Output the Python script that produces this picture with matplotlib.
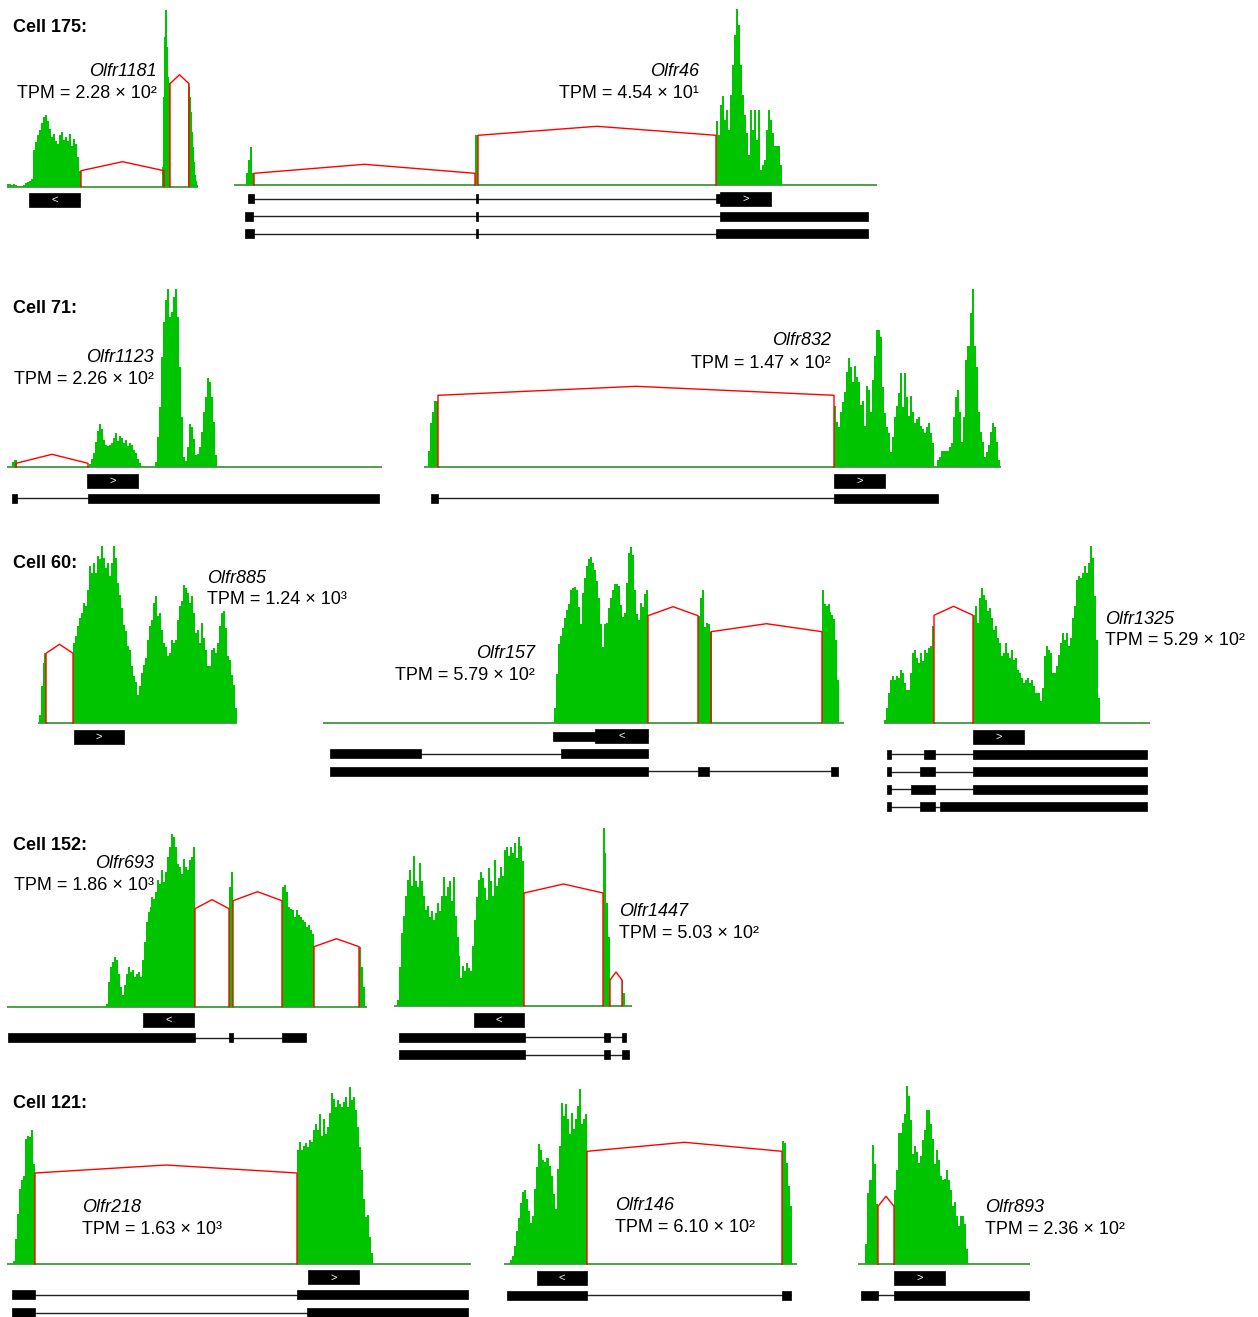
import numpy as np
import matplotlib
matplotlib.use("Agg")
import matplotlib.pyplot as plt

plt.rcParams['font.family'] = ['Liberation Sans', 'DejaVu Sans']

W, H = 1258, 1317
GREEN = '#00c400'
AXIS_GREEN = '#3c9a3c'
RED = '#ff0000'

# --- data: positions are along each locus, depth is read-coverage height ---
# coverage: (start, end, depths), junctions: (start, end, height, apex)
# rows: transcripts, each a list of (start, end, kind); 'cds' gets the strand arrow

olfr1181_cov = [
    (0, 26, [3, 3, 2, 3, 2, 1, 1, 1, 2, 4, 5, 6, 8]),
    (26, 74, [37, 45, 52, 57, 64, 70, 72, 66, 58, 50, 53, 46, 43, 52, 55, 47, 50, 46, 53, 41, 48, 43, 30, 16]),
    (155, 163, [20, 90, 150, 177, 177, 140, 110, 104]),
    (181, 191, [103, 100, 90, 75, 55, 40, 25, 12, 6, 2]),
]
olfr1181_junc = [(74, 157, 16, 25), (163, 182, 103, 112)]
olfr1181_rows = [[(22, 73, 'cds')]]

olfr46_cov = [
    (12, 20, [12, 25, 38, 12]),
    (241, 244, [50, 50]),
    (482, 548, [64, 50, 80, 89, 65, 75, 55, 90, 120, 150, 176, 160, 120, 90, 70, 52, 30, 75, 55, 75,
                45, 75, 15, 20, 25, 55, 75, 65, 52, 39, 39, 39, 20]),
]
olfr46_junc = [(20, 241, 12, 21), (244, 482, 50, 59)]
olfr46_rows = [
    [(14, 20, 'exon'), (242, 244, 'exon'), (482, 486, 'exon'), (486, 537, 'cds')],
    [(11, 19, 'exon'), (242, 244, 'exon'), (486, 634, 'exon')],
    [(11, 20, 'exon'), (242, 244, 'exon'), (482, 634, 'exon')],
]

olfr1123_cov = [
    (5, 10, [5, 7, 7]),
    (82, 136, [3, 8, 14, 25, 36, 43, 38, 27, 22, 21, 22, 24, 29, 34, 26, 31, 29, 24, 27, 21, 24, 22, 17, 14, 8, 4, 1]),
    (148, 210, [5, 30, 60, 110, 145, 167, 178, 150, 155, 170, 178, 150, 100, 50, 10, 6, 20, 43, 40, 28,
                12, 13, 20, 35, 55, 70, 89, 85, 70, 45, 12]),
]
olfr1123_junc = [(9, 81, 4, 13)]
olfr1123_rows = [[(80, 131, 'cds')], [(5, 10, 'exon'), (81, 372, 'exon')]]

olfr832_cov = [
    (4, 14, [16, 44, 55, 66, 66]),
    (410, 510, [61, 45, 40, 55, 65, 75, 95, 109, 100, 85, 101, 90, 85, 62, 66, 41, 81, 77, 55, 87,
                111, 137, 137, 130, 80, 54, 40, 34, 15, 30, 50, 61, 74, 94, 60, 94, 70, 51, 71, 55,
                44, 48, 50, 41, 38, 34, 40, 44, 34, 24]),
    (513, 576, [7, 10, 16, 16, 16, 16, 20, 24, 50, 70, 77, 55, 25, 50, 107, 121, 154, 178, 121, 100,
                55, 35, 25, 10, 15, 22, 35, 44, 40, 25, 7]),
]
olfr832_junc = [(14, 410, 72, 81)]
olfr832_rows = [[(410, 461, 'cds')], [(7, 14, 'exon'), (410, 514, 'exon')]]

olfr885_cov = [
    (1, 8, [8, 37, 60, 70]),
    (35, 199, [80, 87, 97, 105, 110, 120, 117, 133, 157, 150, 160, 150, 167, 164, 177, 165, 155, 160, 147, 160,
               177, 165, 140, 128, 115, 98, 92, 77, 73, 57, 47, 41, 28, 37, 50, 58, 65, 83, 97, 103,
               120, 127, 107, 110, 93, 80, 76, 67, 70, 83, 80, 83, 103, 117, 122, 138, 135, 130, 120, 127,
               110, 90, 93, 80, 100, 85, 73, 57, 57, 73, 75, 70, 80, 97, 110, 112, 95, 67, 63, 48,
               38, 15]),
]
olfr885_junc = [(8, 35, 70, 79)]
olfr885_rows = [[(36, 86, 'cds')]]

olfr157_cov = [
    (231, 325, [15, 49, 79, 87, 95, 105, 113, 119, 133, 135, 136, 133, 116, 99, 130, 145, 157, 164, 166, 160,
                153, 142, 125, 99, 76, 99, 100, 115, 125, 133, 139, 139, 137, 118, 106, 110, 140, 170, 176, 168,
                133, 109, 103, 120, 116, 129, 133]),
    (375, 389, [107, 125, 133, 96, 100, 99, 91]),
    (499, 516, [133, 119, 117, 119, 111, 108, 104, 83, 43]),
]
olfr157_junc = [(325, 375, 107, 116), (388, 499, 91, 99)]
olfr157_rows = [
    [(230, 272, 'exon'), (272, 325, 'cds')],
    [(7, 98, 'exon'), (238, 325, 'exon')],
    [(7, 325, 'exon'), (375, 386, 'exon'), (508, 515, 'exon')],
]

olfr1325_cov = [
    (0, 50, [3, 15, 30, 43, 47, 43, 47, 45, 53, 50, 40, 33, 33, 50, 70, 73, 65, 60, 70, 62, 73, 70, 75, 77, 97]),
    (89, 216, [108, 117, 100, 125, 135, 128, 123, 112, 115, 105, 93, 97, 85, 80, 67, 70, 80, 70, 65, 73,
               63, 65, 53, 50, 45, 40, 43, 45, 40, 43, 37, 30, 30, 22, 35, 67, 77, 73, 70, 50,
               50, 57, 68, 80, 90, 83, 90, 77, 85, 105, 117, 143, 147, 145, 150, 157, 150, 160, 177, 165,
               127, 83, 25]),
]
olfr1325_junc = [(50, 89, 108, 117)]
olfr1325_rows = [
    [(89, 140, 'cds')],
    [(3, 7, 'exon'), (40, 51, 'exon'), (89, 263, 'exon')],
    [(3, 7, 'exon'), (36, 51, 'exon'), (89, 263, 'exon')],
    [(3, 7, 'exon'), (27, 51, 'exon'), (89, 263, 'exon')],
    [(3, 7, 'exon'), (36, 51, 'exon'), (56, 263, 'exon')],
]

olfr693_cov = [
    (99, 188, [3, 25, 40, 45, 50, 47, 33, 20, 12, 22, 33, 40, 35, 37, 30, 33, 35, 30, 47, 65,
               85, 95, 100, 110, 108, 115, 127, 123, 137, 125, 135, 150, 160, 173, 170, 160, 143, 140, 133, 148,
               140, 137, 147, 150, 160]),
    (222, 226, [120, 135]),
    (275, 307, [120, 122, 115, 100, 98, 97, 90, 97, 92, 90, 87, 85, 80, 82, 77, 73]),
    (352, 358, [60, 40, 20]),
]
olfr693_junc = [(188, 222, 98, 107), (226, 275, 106, 115), (307, 352, 60, 68)]
olfr693_rows = [[(136, 187, 'cds')], [(1, 188, 'exon'), (222, 226, 'exon'), (275, 299, 'exon')]]

olfr1447_cov = [
    (3, 130, [6, 39, 73, 90, 110, 126, 136, 120, 150, 125, 119, 143, 125, 110, 96, 100, 89, 95, 86, 93,
              103, 95, 110, 129, 110, 119, 125, 105, 129, 90, 69, 50, 28, 40, 35, 43, 38, 35, 60, 86,
              109, 126, 134, 128, 118, 106, 138, 125, 110, 146, 120, 128, 139, 130, 156, 159, 150, 159, 153, 163,
              148, 169, 160, 145]),
    (209, 216, [178, 153, 103, 69]),
    (228, 231, [26, 13]),
]
olfr1447_junc = [(130, 209, 113, 122), (216, 228, 26, 34)]
olfr1447_rows = [
    [(80, 130, 'cds')],
    [(5, 131, 'exon'), (210, 216, 'exon'), (228, 232, 'exon')],
    [(5, 131, 'exon'), (210, 216, 'exon'), (228, 235, 'exon')],
]

olfr218_cov = [
    (6, 28, [3, 25, 50, 75, 84, 88, 125, 128, 127, 134, 100]),
    (290, 366, [114, 122, 114, 118, 121, 117, 124, 122, 134, 140, 134, 150, 128, 145, 130, 137, 151, 171, 165, 157,
                164, 160, 157, 162, 167, 157, 177, 164, 167, 154, 137, 117, 94, 65, 47, 49, 27, 11]),
]
olfr218_junc = [(28, 290, 91, 99)]
olfr218_rows = [[(301, 352, 'cds')], [(5, 28, 'exon'), (290, 461, 'exon')], [(5, 28, 'exon'), (300, 461, 'exon')]]

olfr146_cov = [
    (6, 83, [4, 8, 18, 33, 46, 61, 72, 74, 65, 53, 41, 48, 75, 97, 120, 114, 104, 102, 106, 98,
             88, 70, 55, 95, 118, 161, 148, 160, 145, 130, 151, 135, 145, 158, 175, 140, 145, 150]),
    (278, 288, [123, 121, 101, 78, 58]),
]
olfr146_junc = [(83, 278, 113, 122)]
olfr146_rows = [[(33, 83, 'cds')], [(3, 83, 'exon'), (278, 287, 'exon')]]

olfr893_cov = [
    (7, 20, [20, 71, 84, 119, 100, 60]),
    (36, 110, [74, 94, 131, 131, 141, 150, 178, 168, 144, 110, 118, 112, 101, 108, 124, 134, 154, 154, 140, 125,
               100, 114, 104, 88, 84, 85, 94, 84, 74, 58, 62, 48, 38, 48, 48, 40, 15]),
]
olfr893_junc = [(20, 36, 58, 68)]
olfr893_rows = [[(36, 87, 'cds')], [(3, 20, 'exon'), (36, 171, 'exon')]]

genes = ['Olfr1181', 'Olfr46', 'Olfr1123', 'Olfr832', 'Olfr885', 'Olfr157',
         'Olfr1325', 'Olfr693', 'Olfr1447', 'Olfr218', 'Olfr146', 'Olfr893']
tpm = ['2.28 × 10²', '4.54 × 10¹', '2.26 × 10²', '1.47 × 10²', '1.24 × 10³', '5.79 × 10²',
       '5.29 × 10²', '1.86 × 10³', '5.03 × 10²', '1.63 × 10³', '6.10 × 10²', '2.36 × 10²']
strands = ['<', '>', '>', '>', '>', '<', '>', '<', '<', '>', '<', '>']
coverages = [olfr1181_cov, olfr46_cov, olfr1123_cov, olfr832_cov, olfr885_cov, olfr157_cov,
             olfr1325_cov, olfr693_cov, olfr1447_cov, olfr218_cov, olfr146_cov, olfr893_cov]
junctions = [olfr1181_junc, olfr46_junc, olfr1123_junc, olfr832_junc, olfr885_junc, olfr157_junc,
             olfr1325_junc, olfr693_junc, olfr1447_junc, olfr218_junc, olfr146_junc, olfr893_junc]
transcripts = [olfr1181_rows, olfr46_rows, olfr1123_rows, olfr832_rows, olfr885_rows, olfr157_rows,
               olfr1325_rows, olfr693_rows, olfr1447_rows, olfr218_rows, olfr146_rows, olfr893_rows]

cells = ['Cell 175:', 'Cell 71:', 'Cell 60:', 'Cell 152:', 'Cell 121:']

# --- layout (pixels) ---
# track left, baseline y, track length, label x, label y, label alignment
layout = [
    (7, 186.7, 191, 157, 71, 'right'),
    (234, 185.3, 643, 699, 71, 'right'),
    (7, 467.3, 375, 154, 357, 'right'),
    (424, 467.3, 577, 831, 341, 'right'),
    (38, 723.3, 199, 207, 578, 'left'),
    (323, 722.7, 521, 535, 653, 'right'),
    (884, 723.3, 266, 1105, 619, 'left'),
    (7, 1006.7, 360, 154, 864, 'right'),
    (394, 1006, 238, 619, 911, 'left'),
    (7, 1264, 464, 82, 1207, 'left'),
    (504, 1264.3, 293, 615, 1205, 'left'),
    (858, 1264.3, 172, 985, 1208, 'left'),
]
cell_y = [27, 308, 563, 845, 1104]

ABOVE, BELOW = 180, 95

fig = plt.figure(figsize=(W / 100, H / 100), dpi=100)


def draw_panel(x0, base, length, cov, juncs, rows, strand):
    ax = fig.add_axes([x0 / W, 1 - (base + BELOW) / H, length / W, (ABOVE + BELOW) / H])
    ax.set_xlim(0, length)
    ax.set_ylim(-BELOW, ABOVE)
    ax.axis('off')
    for start, end, vals in cov:
        edges = np.linspace(start, end, len(vals) + 1)
        ax.stairs(vals, edges, fill=True, color=GREEN, lw=0, zorder=1)
    ax.hlines(0, 0, length, color=AXIS_GREEN, lw=1.3, zorder=2)
    for s, e, h, apex in juncs:
        ax.plot([s, s, (s + e) / 2, e, e], [0, h, apex, h, 0], color=RED, lw=1, zorder=3)
    for i, row in enumerate(rows):
        y = -(13.5 + 17.5 * i)
        lo = min(r[0] for r in row)
        hi = max(r[1] for r in row)
        ax.hlines(y, lo, hi, color='#222222', lw=1, zorder=1)
        for s, e, kind in row:
            hh = 14 if kind == 'cds' else 9
            ax.broken_barh([(s, e - s)], (y - hh / 2, hh), facecolor='black', edgecolor='black',
                           lw=0.5, zorder=2)
            if kind == 'cds':
                ax.text((s + e) / 2, y, strand, color='white', ha='center', va='center',
                        fontsize=8, zorder=3)


for i in range(len(genes)):
    x0, base, length, tx, ty, align = layout[i]
    draw_panel(x0, base, length, coverages[i], junctions[i], transcripts[i], strands[i])
    fig.text(tx / W, 1 - ty / H, genes[i], ha=align, va='center', fontsize=13, style='italic')
    fig.text(tx / W, 1 - (ty + 22) / H, 'TPM = ' + tpm[i], ha=align, va='center', fontsize=13)

for label, y in zip(cells, cell_y):
    fig.text(13 / W, 1 - y / H, label, ha='left', va='center', fontsize=13, fontweight='bold')

fig.savefig('out.png', dpi=100)
